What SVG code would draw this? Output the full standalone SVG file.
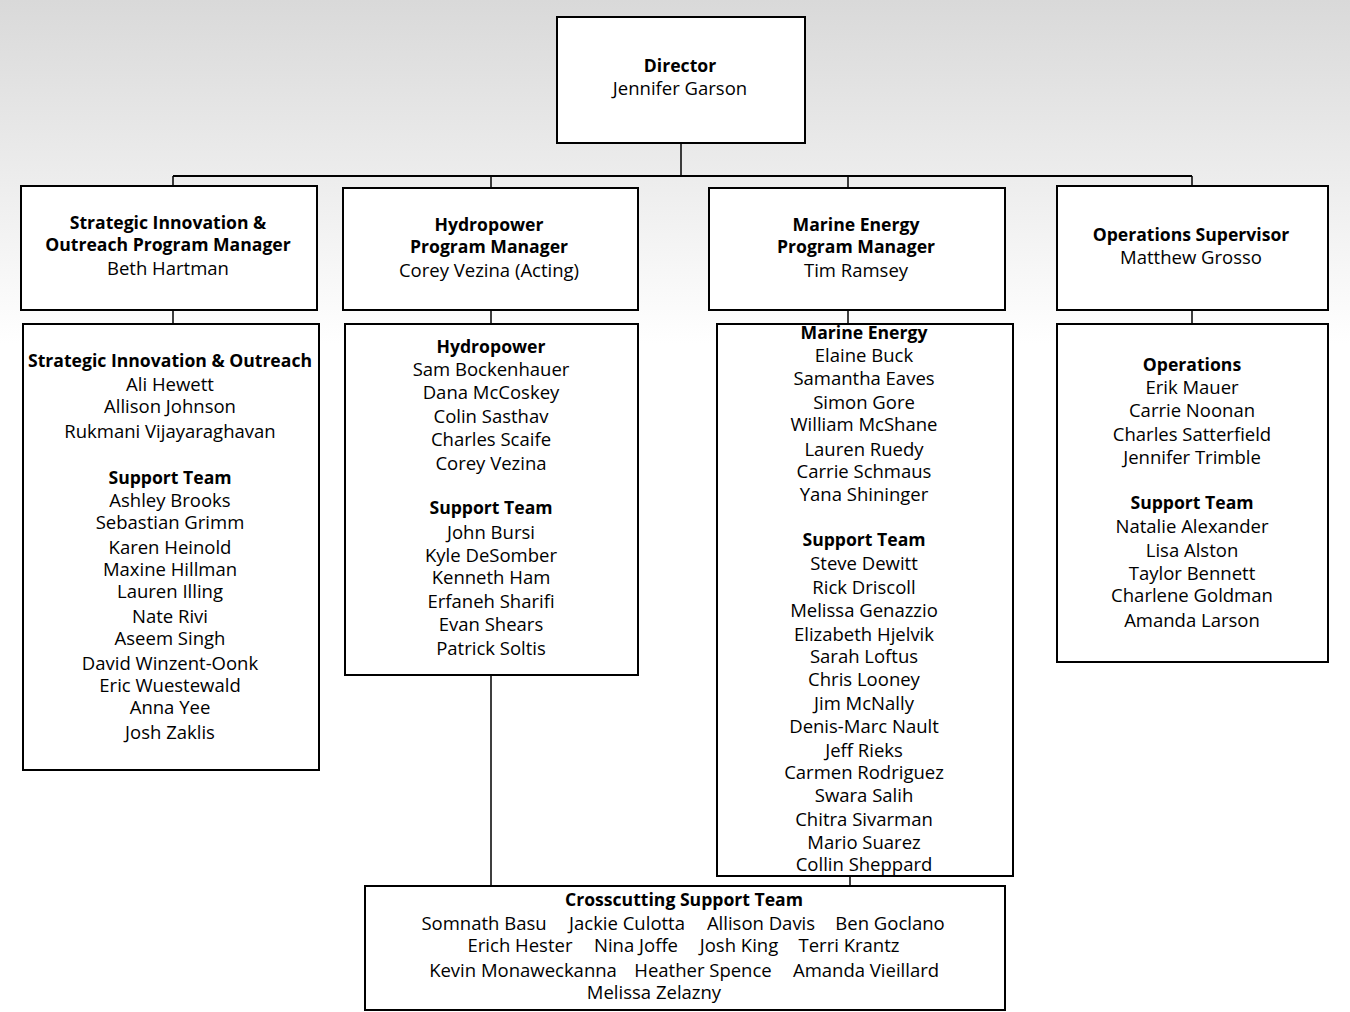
<svg xmlns="http://www.w3.org/2000/svg" width="1350" height="1012" viewBox="0 0 1350 1012">
<defs>
<linearGradient id="bg" x1="0" y1="0" x2="0" y2="1">
<stop offset="0" stop-color="#d9d9d9"/>
<stop offset="0.34" stop-color="#ffffff"/>
<stop offset="1" stop-color="#ffffff"/>
</linearGradient>
<style>
.box{fill:#fff;stroke:#000;stroke-width:2}
.ln{fill:none;stroke:#000;stroke-width:1.5}
text{font-family:"Open Sans","Noto Sans",sans-serif;font-size:18.5px;fill:#000;text-anchor:middle}
.b{font-weight:bold;font-size:17.6px}
</style>
</defs>
<rect width="1350" height="1012" fill="url(#bg)"/>
<g id="connectors">
<path class="ln" d="M681 143V176"/>
<path class="ln" d="M173 176H1192" style="stroke-width:2"/>
<path class="ln" d="M173 176V186M491 176V188M848 176V188M1192 176V186"/>
<path class="ln" d="M173 310V324M491 310V324M848 310V324M1192 310V324"/>
<path class="ln" d="M491 675V886M850 876V886"/>
</g>
<g id="director">
<rect class="box" x="557" y="17" width="248" height="126"/>
<text x="680" y="72" class="b">Director</text>
<text x="680" y="95">Jennifer Garson</text>
</g>
<g id="si-manager">
<rect class="box" x="21" y="186" width="296" height="124"/>
<text x="168" y="229" class="b">Strategic Innovation &amp;</text>
<text x="168" y="251" class="b">Outreach Program Manager</text>
<text x="168" y="275">Beth Hartman</text>
</g>
<g id="hydro-manager">
<rect class="box" x="343" y="188" width="295" height="122"/>
<text x="489" y="231" class="b">Hydropower</text>
<text x="489" y="253" class="b">Program Manager</text>
<text x="489" y="277">Corey Vezina (Acting)</text>
</g>
<g id="marine-manager">
<rect class="box" x="709" y="188" width="296" height="122"/>
<text x="856" y="231" class="b">Marine Energy</text>
<text x="856" y="253" class="b">Program Manager</text>
<text x="856" y="277">Tim Ramsey</text>
</g>
<g id="ops-supervisor">
<rect class="box" x="1057" y="186" width="271" height="124"/>
<text x="1191" y="241" class="b">Operations Supervisor</text>
<text x="1191" y="264">Matthew Grosso</text>
</g>
<g id="si-team">
<rect class="box" x="23" y="324" width="296" height="446"/>
<text x="170" y="367" class="b">Strategic Innovation &amp; Outreach</text>
<text x="170" y="391">Ali Hewett</text>
<text x="170" y="413">Allison Johnson</text>
<text x="170" y="438">Rukmani Vijayaraghavan</text>
<text x="170" y="484" class="b">Support Team</text>
<text x="170" y="507">Ashley Brooks</text>
<text x="170" y="529">Sebastian Grimm</text>
<text x="170" y="554">Karen Heinold</text>
<text x="170" y="576">Maxine Hillman</text>
<text x="170" y="598">Lauren Illing</text>
<text x="170" y="623">Nate Rivi</text>
<text x="170" y="645">Aseem Singh</text>
<text x="170" y="670">David Winzent-Oonk</text>
<text x="170" y="692">Eric Wuestewald</text>
<text x="170" y="714">Anna Yee</text>
<text x="170" y="739">Josh Zaklis</text>
</g>
<g id="hydro-team">
<rect class="box" x="345" y="324" width="293" height="351"/>
<text x="491" y="353" class="b">Hydropower</text>
<text x="491" y="376">Sam Bockenhauer</text>
<text x="491" y="399">Dana McCoskey</text>
<text x="491" y="423">Colin Sasthav</text>
<text x="491" y="446">Charles Scaife</text>
<text x="491" y="470">Corey Vezina</text>
<text x="491" y="514" class="b">Support Team</text>
<text x="491" y="539">John Bursi</text>
<text x="491" y="562">Kyle DeSomber</text>
<text x="491" y="584">Kenneth Ham</text>
<text x="491" y="608">Erfaneh Sharifi</text>
<text x="491" y="631">Evan Shears</text>
<text x="491" y="655">Patrick Soltis</text>
</g>
<g id="marine-team">
<rect class="box" x="717" y="324" width="296" height="552"/>
<text x="864" y="339" class="b">Marine Energy</text>
<text x="864" y="362">Elaine Buck</text>
<text x="864" y="385">Samantha Eaves</text>
<text x="864" y="409">Simon Gore</text>
<text x="864" y="431">William McShane</text>
<text x="864" y="456">Lauren Ruedy</text>
<text x="864" y="478">Carrie Schmaus</text>
<text x="864" y="501">Yana Shininger</text>
<text x="864" y="546" class="b">Support Team</text>
<text x="864" y="570">Steve Dewitt</text>
<text x="864" y="594">Rick Driscoll</text>
<text x="864" y="617">Melissa Genazzio</text>
<text x="864" y="641">Elizabeth Hjelvik</text>
<text x="864" y="663">Sarah Loftus</text>
<text x="864" y="686">Chris Looney</text>
<text x="864" y="710">Jim McNally</text>
<text x="864" y="733">Denis-Marc Nault</text>
<text x="864" y="757">Jeff Rieks</text>
<text x="864" y="779">Carmen Rodriguez</text>
<text x="864" y="802">Swara Salih</text>
<text x="864" y="826">Chitra Sivarman</text>
<text x="864" y="849">Mario Suarez</text>
<text x="864" y="871">Collin Sheppard</text>
</g>
<g id="ops-team">
<rect class="box" x="1057" y="324" width="271" height="338"/>
<text x="1192" y="371" class="b">Operations</text>
<text x="1192" y="394">Erik Mauer</text>
<text x="1192" y="417">Carrie Noonan</text>
<text x="1192" y="441">Charles Satterfield</text>
<text x="1192" y="464">Jennifer Trimble</text>
<text x="1192" y="509" class="b">Support Team</text>
<text x="1192" y="533">Natalie Alexander</text>
<text x="1192" y="557">Lisa Alston</text>
<text x="1192" y="580">Taylor Bennett</text>
<text x="1192" y="602">Charlene Goldman</text>
<text x="1192" y="627">Amanda Larson</text>
</g>
<g id="crosscutting-team">
<rect class="box" x="365" y="886" width="640" height="124"/>
<text x="684" y="906" class="b">Crosscutting Support Team</text>
<text x="484" y="930">Somnath Basu</text>
<text x="627" y="930">Jackie Culotta</text>
<text x="761" y="930">Allison Davis</text>
<text x="890" y="930">Ben Goclano</text>
<text x="520" y="952">Erich Hester</text>
<text x="636" y="952">Nina Joffe</text>
<text x="739" y="952">Josh King</text>
<text x="849" y="952">Terri Krantz</text>
<text x="523" y="977">Kevin Monaweckanna</text>
<text x="703" y="977">Heather Spence</text>
<text x="866" y="977">Amanda Vieillard</text>
<text x="654" y="999">Melissa Zelazny</text>
</g>
</svg>
